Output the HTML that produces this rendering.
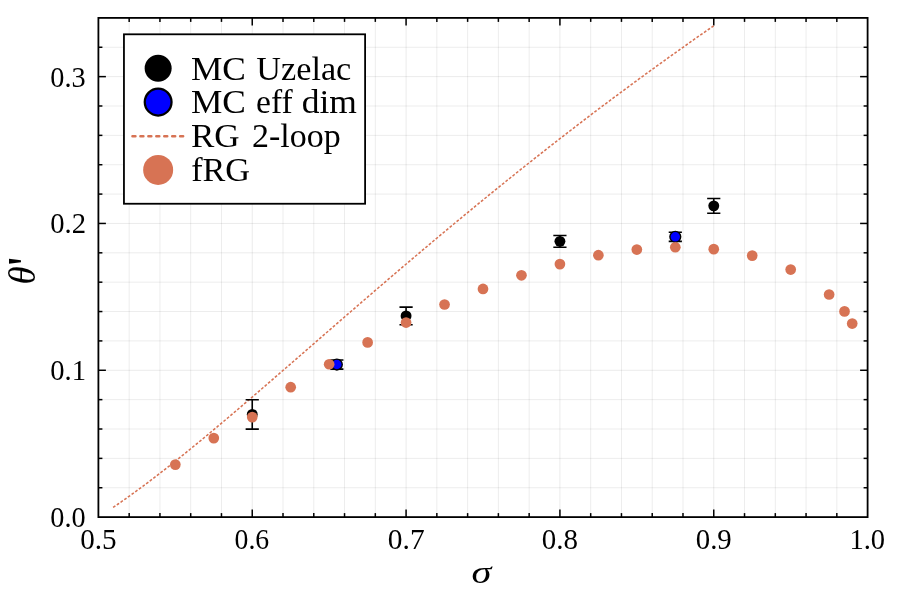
<!DOCTYPE html>
<html lang="en"><head><meta charset="utf-8"><title>theta prime vs sigma</title>
<style>html,body{margin:0;padding:0;background:#fff}svg{display:block}</style></head>
<body>
<svg width="897" height="598" viewBox="0 0 897 598">
<rect x="0" y="0" width="897" height="598" fill="#ffffff"/>
<g id="grid" fill="none" stroke="#000" stroke-width="0.8">
<line x1="129.17" y1="17.9" x2="129.17" y2="517.1" stroke-opacity="0.095"/>
<line x1="159.94" y1="17.9" x2="159.94" y2="517.1" stroke-opacity="0.095"/>
<line x1="190.70" y1="17.9" x2="190.70" y2="517.1" stroke-opacity="0.095"/>
<line x1="221.47" y1="17.9" x2="221.47" y2="517.1" stroke-opacity="0.095"/>
<line x1="252.24" y1="17.9" x2="252.24" y2="517.1" stroke-opacity="0.105"/>
<line x1="283.01" y1="17.9" x2="283.01" y2="517.1" stroke-opacity="0.095"/>
<line x1="313.78" y1="17.9" x2="313.78" y2="517.1" stroke-opacity="0.095"/>
<line x1="344.54" y1="17.9" x2="344.54" y2="517.1" stroke-opacity="0.095"/>
<line x1="375.31" y1="17.9" x2="375.31" y2="517.1" stroke-opacity="0.095"/>
<line x1="406.08" y1="17.9" x2="406.08" y2="517.1" stroke-opacity="0.105"/>
<line x1="436.85" y1="17.9" x2="436.85" y2="517.1" stroke-opacity="0.095"/>
<line x1="467.62" y1="17.9" x2="467.62" y2="517.1" stroke-opacity="0.095"/>
<line x1="498.38" y1="17.9" x2="498.38" y2="517.1" stroke-opacity="0.095"/>
<line x1="529.15" y1="17.9" x2="529.15" y2="517.1" stroke-opacity="0.095"/>
<line x1="559.92" y1="17.9" x2="559.92" y2="517.1" stroke-opacity="0.105"/>
<line x1="590.69" y1="17.9" x2="590.69" y2="517.1" stroke-opacity="0.095"/>
<line x1="621.46" y1="17.9" x2="621.46" y2="517.1" stroke-opacity="0.095"/>
<line x1="652.22" y1="17.9" x2="652.22" y2="517.1" stroke-opacity="0.095"/>
<line x1="682.99" y1="17.9" x2="682.99" y2="517.1" stroke-opacity="0.095"/>
<line x1="713.76" y1="17.9" x2="713.76" y2="517.1" stroke-opacity="0.105"/>
<line x1="744.53" y1="17.9" x2="744.53" y2="517.1" stroke-opacity="0.095"/>
<line x1="775.30" y1="17.9" x2="775.30" y2="517.1" stroke-opacity="0.095"/>
<line x1="806.06" y1="17.9" x2="806.06" y2="517.1" stroke-opacity="0.095"/>
<line x1="836.83" y1="17.9" x2="836.83" y2="517.1" stroke-opacity="0.095"/>
<line x1="98.4" y1="487.74" x2="867.6" y2="487.74" stroke-opacity="0.095"/>
<line x1="98.4" y1="458.37" x2="867.6" y2="458.37" stroke-opacity="0.095"/>
<line x1="98.4" y1="429.01" x2="867.6" y2="429.01" stroke-opacity="0.095"/>
<line x1="98.4" y1="399.64" x2="867.6" y2="399.64" stroke-opacity="0.095"/>
<line x1="98.4" y1="370.28" x2="867.6" y2="370.28" stroke-opacity="0.105"/>
<line x1="98.4" y1="340.91" x2="867.6" y2="340.91" stroke-opacity="0.095"/>
<line x1="98.4" y1="311.55" x2="867.6" y2="311.55" stroke-opacity="0.095"/>
<line x1="98.4" y1="282.18" x2="867.6" y2="282.18" stroke-opacity="0.095"/>
<line x1="98.4" y1="252.82" x2="867.6" y2="252.82" stroke-opacity="0.095"/>
<line x1="98.4" y1="223.45" x2="867.6" y2="223.45" stroke-opacity="0.105"/>
<line x1="98.4" y1="194.09" x2="867.6" y2="194.09" stroke-opacity="0.095"/>
<line x1="98.4" y1="164.72" x2="867.6" y2="164.72" stroke-opacity="0.095"/>
<line x1="98.4" y1="135.36" x2="867.6" y2="135.36" stroke-opacity="0.095"/>
<line x1="98.4" y1="105.99" x2="867.6" y2="105.99" stroke-opacity="0.095"/>
<line x1="98.4" y1="76.63" x2="867.6" y2="76.63" stroke-opacity="0.105"/>
<line x1="98.4" y1="47.26" x2="867.6" y2="47.26" stroke-opacity="0.095"/>
</g>
<g id="ticks" stroke="#000" stroke-width="1.5" fill="none">
<line x1="129.17" y1="517.1" x2="129.17" y2="513.1"/>
<line x1="129.17" y1="17.9" x2="129.17" y2="21.9"/>
<line x1="159.94" y1="517.1" x2="159.94" y2="513.1"/>
<line x1="159.94" y1="17.9" x2="159.94" y2="21.9"/>
<line x1="190.70" y1="517.1" x2="190.70" y2="513.1"/>
<line x1="190.70" y1="17.9" x2="190.70" y2="21.9"/>
<line x1="221.47" y1="517.1" x2="221.47" y2="513.1"/>
<line x1="221.47" y1="17.9" x2="221.47" y2="21.9"/>
<line x1="252.24" y1="517.1" x2="252.24" y2="509.6"/>
<line x1="252.24" y1="17.9" x2="252.24" y2="25.4"/>
<line x1="283.01" y1="517.1" x2="283.01" y2="513.1"/>
<line x1="283.01" y1="17.9" x2="283.01" y2="21.9"/>
<line x1="313.78" y1="517.1" x2="313.78" y2="513.1"/>
<line x1="313.78" y1="17.9" x2="313.78" y2="21.9"/>
<line x1="344.54" y1="517.1" x2="344.54" y2="513.1"/>
<line x1="344.54" y1="17.9" x2="344.54" y2="21.9"/>
<line x1="375.31" y1="517.1" x2="375.31" y2="513.1"/>
<line x1="375.31" y1="17.9" x2="375.31" y2="21.9"/>
<line x1="406.08" y1="517.1" x2="406.08" y2="509.6"/>
<line x1="406.08" y1="17.9" x2="406.08" y2="25.4"/>
<line x1="436.85" y1="517.1" x2="436.85" y2="513.1"/>
<line x1="436.85" y1="17.9" x2="436.85" y2="21.9"/>
<line x1="467.62" y1="517.1" x2="467.62" y2="513.1"/>
<line x1="467.62" y1="17.9" x2="467.62" y2="21.9"/>
<line x1="498.38" y1="517.1" x2="498.38" y2="513.1"/>
<line x1="498.38" y1="17.9" x2="498.38" y2="21.9"/>
<line x1="529.15" y1="517.1" x2="529.15" y2="513.1"/>
<line x1="529.15" y1="17.9" x2="529.15" y2="21.9"/>
<line x1="559.92" y1="517.1" x2="559.92" y2="509.6"/>
<line x1="559.92" y1="17.9" x2="559.92" y2="25.4"/>
<line x1="590.69" y1="517.1" x2="590.69" y2="513.1"/>
<line x1="590.69" y1="17.9" x2="590.69" y2="21.9"/>
<line x1="621.46" y1="517.1" x2="621.46" y2="513.1"/>
<line x1="621.46" y1="17.9" x2="621.46" y2="21.9"/>
<line x1="652.22" y1="517.1" x2="652.22" y2="513.1"/>
<line x1="652.22" y1="17.9" x2="652.22" y2="21.9"/>
<line x1="682.99" y1="517.1" x2="682.99" y2="513.1"/>
<line x1="682.99" y1="17.9" x2="682.99" y2="21.9"/>
<line x1="713.76" y1="517.1" x2="713.76" y2="509.6"/>
<line x1="713.76" y1="17.9" x2="713.76" y2="25.4"/>
<line x1="744.53" y1="517.1" x2="744.53" y2="513.1"/>
<line x1="744.53" y1="17.9" x2="744.53" y2="21.9"/>
<line x1="775.30" y1="517.1" x2="775.30" y2="513.1"/>
<line x1="775.30" y1="17.9" x2="775.30" y2="21.9"/>
<line x1="806.06" y1="517.1" x2="806.06" y2="513.1"/>
<line x1="806.06" y1="17.9" x2="806.06" y2="21.9"/>
<line x1="836.83" y1="517.1" x2="836.83" y2="513.1"/>
<line x1="836.83" y1="17.9" x2="836.83" y2="21.9"/>
<line x1="98.4" y1="487.74" x2="102.4" y2="487.74"/>
<line x1="867.6" y1="487.74" x2="863.6" y2="487.74"/>
<line x1="98.4" y1="458.37" x2="102.4" y2="458.37"/>
<line x1="867.6" y1="458.37" x2="863.6" y2="458.37"/>
<line x1="98.4" y1="429.01" x2="102.4" y2="429.01"/>
<line x1="867.6" y1="429.01" x2="863.6" y2="429.01"/>
<line x1="98.4" y1="399.64" x2="102.4" y2="399.64"/>
<line x1="867.6" y1="399.64" x2="863.6" y2="399.64"/>
<line x1="98.4" y1="370.28" x2="105.9" y2="370.28"/>
<line x1="867.6" y1="370.28" x2="860.1" y2="370.28"/>
<line x1="98.4" y1="340.91" x2="102.4" y2="340.91"/>
<line x1="867.6" y1="340.91" x2="863.6" y2="340.91"/>
<line x1="98.4" y1="311.55" x2="102.4" y2="311.55"/>
<line x1="867.6" y1="311.55" x2="863.6" y2="311.55"/>
<line x1="98.4" y1="282.18" x2="102.4" y2="282.18"/>
<line x1="867.6" y1="282.18" x2="863.6" y2="282.18"/>
<line x1="98.4" y1="252.82" x2="102.4" y2="252.82"/>
<line x1="867.6" y1="252.82" x2="863.6" y2="252.82"/>
<line x1="98.4" y1="223.45" x2="105.9" y2="223.45"/>
<line x1="867.6" y1="223.45" x2="860.1" y2="223.45"/>
<line x1="98.4" y1="194.09" x2="102.4" y2="194.09"/>
<line x1="867.6" y1="194.09" x2="863.6" y2="194.09"/>
<line x1="98.4" y1="164.72" x2="102.4" y2="164.72"/>
<line x1="867.6" y1="164.72" x2="863.6" y2="164.72"/>
<line x1="98.4" y1="135.36" x2="102.4" y2="135.36"/>
<line x1="867.6" y1="135.36" x2="863.6" y2="135.36"/>
<line x1="98.4" y1="105.99" x2="102.4" y2="105.99"/>
<line x1="867.6" y1="105.99" x2="863.6" y2="105.99"/>
<line x1="98.4" y1="76.63" x2="105.9" y2="76.63"/>
<line x1="867.6" y1="76.63" x2="860.1" y2="76.63"/>
<line x1="98.4" y1="47.26" x2="102.4" y2="47.26"/>
<line x1="867.6" y1="47.26" x2="863.6" y2="47.26"/>
</g>
<g id="rg2loop" stroke="#d77354" stroke-width="1.55" fill="none">
<path d="M113.10 507.43 L115.60 505.73 L118.11 504.01 L120.61 502.27 L123.11 500.52 L125.61 498.76 L128.12 496.98 L130.62 495.18 L133.12 493.38 L135.63 491.55 L138.13 489.72 L140.63 487.87 L143.13 486.01 L145.64 484.14 L148.14 482.26 L150.64 480.37 L153.15 478.46 L155.65 476.55 L158.15 474.62 L160.66 472.68 L163.16 470.74 L165.66 468.78 L168.16 466.82 L170.67 464.85 L173.17 462.86 L175.67 460.87 L178.18 458.87 L180.68 456.87 L183.18 454.85 L185.68 452.83 L188.19 450.80 L190.69 448.76 L193.19 446.72 L195.70 444.67 L198.20 442.61 L200.70 440.55 L203.20 438.48 L205.71 436.41 L208.21 434.33 L210.71 432.24 L213.22 430.15 L215.72 428.06 L218.22 425.96 L220.73 423.85 L223.23 421.75 L225.73 419.63 L228.23 417.52 L230.74 415.39 L233.24 413.27 L235.74 411.14 L238.25 409.01 L240.75 406.87 L243.25 404.73 L245.75 402.59 L248.26 400.45 L250.76 398.30 L253.26 396.15 L255.77 394.00 L258.27 391.85 L260.77 389.69 L263.27 387.53 L265.78 385.37 L268.28 383.21 L270.78 381.04 L273.29 378.88 L275.79 376.71 L278.29 374.54 L280.80 372.37 L283.30 370.20 L285.80 368.03 L288.30 365.86 L290.81 363.68 L293.31 361.51 L295.81 359.34 L298.32 357.16 L300.82 354.98 L303.32 352.81 L305.82 350.63 L308.33 348.46 L310.83 346.28 L313.33 344.10 L315.84 341.93 L318.34 339.75 L320.84 337.58 L323.34 335.40 L325.85 333.22 L328.35 331.05 L330.85 328.88 L333.36 326.70 L335.86 324.53 L338.36 322.36 L340.87 320.19 L343.37 318.02 L345.87 315.85 L348.37 313.68 L350.88 311.51 L353.38 309.35 L355.88 307.18 L358.39 305.02 L360.89 302.86 L363.39 300.70 L365.89 298.54 L368.40 296.38 L370.90 294.23 L373.40 292.07 L375.91 289.92 L378.41 287.77 L380.91 285.62 L383.41 283.48 L385.92 281.33 L388.42 279.19 L390.92 277.05 L393.43 274.91 L395.93 272.77 L398.43 270.63 L400.94 268.50 L403.44 266.37 L405.94 264.24 L408.44 262.12 L410.95 259.99 L413.45 257.87 L415.95 255.75 L418.46 253.63 L420.96 251.52 L423.46 249.41 L425.96 247.30 L428.47 245.19 L430.97 243.09 L433.47 240.98 L435.98 238.88 L438.48 236.79 L440.98 234.69 L443.48 232.60 L445.99 230.51 L448.49 228.43 L450.99 226.34 L453.50 224.26 L456.00 222.19 L458.50 220.11 L461.01 218.04 L463.51 215.97 L466.01 213.91 L468.51 211.84 L471.02 209.78 L473.52 207.73 L476.02 205.67 L478.53 203.62 L481.03 201.57 L483.53 199.53 L486.03 197.49 L488.54 195.45 L491.04 193.41 L493.54 191.38 L496.05 189.35 L498.55 187.32 L501.05 185.30 L503.55 183.28 L506.06 181.26 L508.56 179.25 L511.06 177.24 L513.57 175.23 L516.07 173.23 L518.57 171.23 L521.08 169.23 L523.58 167.24 L526.08 165.25 L528.58 163.26 L531.09 161.27 L533.59 159.29 L536.09 157.32 L538.60 155.34 L541.10 153.37 L543.60 151.41 L546.10 149.44 L548.61 147.48 L551.11 145.52 L553.61 143.57 L556.12 141.62 L558.62 139.67 L561.12 137.73 L563.62 135.79 L566.13 133.85 L568.63 131.92 L571.13 129.99 L573.64 128.06 L576.14 126.14 L578.64 124.22 L581.15 122.31 L583.65 120.39 L586.15 118.48 L588.65 116.58 L591.16 114.68 L593.66 112.78 L596.16 110.88 L598.67 108.99 L601.17 107.10 L603.67 105.22 L606.17 103.34 L608.68 101.46 L611.18 99.59 L613.68 97.72 L616.19 95.85 L618.69 93.99 L621.19 92.13 L623.69 90.27 L626.20 88.42 L628.70 86.57 L631.20 84.72 L633.71 82.88 L636.21 81.04 L638.71 79.21 L641.22 77.37 L643.72 75.55 L646.22 73.72 L648.72 71.90 L651.23 70.08 L653.73 68.27 L656.23 66.46 L658.74 64.65 L661.24 62.85 L663.74 61.05 L666.24 59.25 L668.75 57.46 L671.25 55.67 L673.75 53.88 L676.26 52.10 L678.76 50.32 L681.26 48.54 L683.76 46.77 L686.27 45.00 L688.77 43.24 L691.27 41.47 L693.78 39.72 L696.28 37.96 L698.78 36.21 L701.29 34.46 L703.79 32.72 L706.29 30.98 L708.79 29.24 L711.30 27.51 L713.80 25.78" stroke-dasharray="2.75 1.765"/>
</g>
<g id="mc-uzelac">
<path d="M252.24 429.15V399.79M245.64 399.79h13.2M245.64 429.15h13.2" stroke="#000" stroke-width="1.6" fill="none"/>
<path d="M406.08 324.76V307.14M399.48 307.14h13.2M399.48 324.76h13.2" stroke="#000" stroke-width="1.6" fill="none"/>
<path d="M559.92 247.24V235.49M553.32 235.49h13.2M553.32 247.24h13.2" stroke="#000" stroke-width="1.6" fill="none"/>
<path d="M713.76 213.18V198.49M707.16 198.49h13.2M707.16 213.18h13.2" stroke="#000" stroke-width="1.6" fill="none"/>
<circle cx="252.24" cy="414.47" r="5.45" fill="#000"/>
<circle cx="406.08" cy="315.95" r="5.45" fill="#000"/>
<circle cx="559.92" cy="241.37" r="5.45" fill="#000"/>
<circle cx="713.76" cy="205.83" r="5.45" fill="#000"/>
</g>
<g id="mc-effdim">
<path d="M336.85 369.10V360.00M330.25 360.00h13.2M330.25 369.10h13.2" stroke="#000" stroke-width="1.6" fill="none"/>
<path d="M675.30 241.37V232.26M668.70 232.26h13.2M668.70 241.37h13.2" stroke="#000" stroke-width="1.6" fill="none"/>
<circle cx="336.85" cy="364.55" r="5.4" fill="#0000ff" stroke="#000" stroke-width="1.4"/>
<circle cx="675.30" cy="236.81" r="5.4" fill="#0000ff" stroke="#000" stroke-width="1.4"/>
</g>
<g id="frg" fill="#d77354">
<circle cx="175.32" cy="464.60" r="5.35"/>
<circle cx="213.78" cy="438.11" r="5.35"/>
<circle cx="252.24" cy="417.11" r="5.35"/>
<circle cx="290.70" cy="387.16" r="5.35"/>
<circle cx="329.16" cy="364.26" r="5.35"/>
<circle cx="367.62" cy="342.38" r="5.35"/>
<circle cx="406.08" cy="322.56" r="5.35"/>
<circle cx="444.54" cy="304.50" r="5.35"/>
<circle cx="483.00" cy="288.94" r="5.35"/>
<circle cx="521.46" cy="275.28" r="5.35"/>
<circle cx="559.92" cy="264.12" r="5.35"/>
<circle cx="598.38" cy="255.17" r="5.35"/>
<circle cx="636.84" cy="249.59" r="5.35"/>
<circle cx="675.30" cy="247.24" r="5.35"/>
<circle cx="713.76" cy="249.15" r="5.35"/>
<circle cx="752.22" cy="255.61" r="5.35"/>
<circle cx="790.68" cy="269.56" r="5.35"/>
<circle cx="829.14" cy="294.52" r="5.35"/>
<circle cx="844.52" cy="311.40" r="5.35"/>
<circle cx="852.22" cy="323.59" r="5.35"/>
</g>
<rect x="98.4" y="17.9" width="769.20" height="499.20" fill="none" stroke="#000" stroke-width="1.8"/>
<g id="legend">
<rect x="123.95" y="34.3" width="241.15" height="169.45" fill="#fff" stroke="#000" stroke-width="1.8"/>
<circle cx="158.15" cy="68.2" r="13.5" fill="#000"/>
<circle cx="158.15" cy="102.1" r="13.4" fill="#0000ff" stroke="#000" stroke-width="2.25"/>
<path d="M132.5 136.2H184" stroke="#d77354" stroke-width="2.6" stroke-linecap="round" stroke-dasharray="2.9 5.05" fill="none"/>
<circle cx="158.15" cy="169.9" r="15" fill="#d77354"/>
<text y="79.50" font-family='"Liberation Serif", serif' font-size="34.3" fill="#000"><tspan x="190.93" textLength="54.92" lengthAdjust="spacingAndGlyphs">MC</tspan> <tspan x="256.34" textLength="94.94" lengthAdjust="spacingAndGlyphs">Uzelac</tspan></text>
<text y="113.40" font-family='"Liberation Serif", serif' font-size="34.3" fill="#000"><tspan x="190.93" textLength="54.92" lengthAdjust="spacingAndGlyphs">MC</tspan> <tspan x="256.06" textLength="36.66" lengthAdjust="spacingAndGlyphs">eff</tspan> <tspan x="301.71" textLength="55.24" lengthAdjust="spacingAndGlyphs">dim</tspan></text>
<text y="147.30" font-family='"Liberation Serif", serif' font-size="34.3" fill="#000"><tspan x="190.93" textLength="48.67" lengthAdjust="spacingAndGlyphs">RG</tspan> <tspan x="251.99" textLength="88.73" lengthAdjust="spacingAndGlyphs">2-loop</tspan></text>
<text y="181.10" font-family='"Liberation Serif", serif' font-size="34.3" fill="#000"><tspan x="191.16" textLength="58.94" lengthAdjust="spacingAndGlyphs">fRG</tspan></text>
</g>
<g id="xticks">
<text y="549.40" font-family='"Liberation Serif", serif' font-size="29.0" fill="#000"><tspan x="80.22" textLength="36.39" lengthAdjust="spacingAndGlyphs">0.5</tspan></text>
<text y="549.40" font-family='"Liberation Serif", serif' font-size="29.0" fill="#000"><tspan x="234.56" textLength="34.68" lengthAdjust="spacingAndGlyphs">0.6</tspan></text>
<text y="549.40" font-family='"Liberation Serif", serif' font-size="29.0" fill="#000"><tspan x="387.80" textLength="36.82" lengthAdjust="spacingAndGlyphs">0.7</tspan></text>
<text y="549.40" font-family='"Liberation Serif", serif' font-size="29.0" fill="#000"><tspan x="541.86" textLength="36.23" lengthAdjust="spacingAndGlyphs">0.8</tspan></text>
<text y="549.40" font-family='"Liberation Serif", serif' font-size="29.0" fill="#000"><tspan x="695.75" textLength="35.99" lengthAdjust="spacingAndGlyphs">0.9</tspan></text>
<text y="549.40" font-family='"Liberation Serif", serif' font-size="29.0" fill="#000"><tspan x="849.38" textLength="35.70" lengthAdjust="spacingAndGlyphs">1.0</tspan></text>
</g>
<g id="yticks">
<text y="527.10" font-family='"Liberation Serif", serif' font-size="29.0" fill="#000"><tspan x="50.30" textLength="35.28" lengthAdjust="spacingAndGlyphs">0.0</tspan></text>
<text y="380.28" font-family='"Liberation Serif", serif' font-size="29.0" fill="#000"><tspan x="50.30" textLength="35.71" lengthAdjust="spacingAndGlyphs">0.1</tspan></text>
<text y="233.45" font-family='"Liberation Serif", serif' font-size="29.0" fill="#000"><tspan x="50.30" textLength="35.75" lengthAdjust="spacingAndGlyphs">0.2</tspan></text>
<text y="86.63" font-family='"Liberation Serif", serif' font-size="29.0" fill="#000"><tspan x="50.30" textLength="35.33" lengthAdjust="spacingAndGlyphs">0.3</tspan></text>
</g>
<text transform="translate(481.5 582.9) scale(1.09 0.83)" font-family='"Liberation Serif", serif' font-size="37" font-style="italic" text-anchor="middle" fill="#000">σ</text>
<text transform="translate(34.6 275.3) rotate(-90)" font-family='"Liberation Serif", serif' font-size="37" font-style="italic" text-anchor="middle" fill="#000">θ</text>
<text transform="translate(42.2 265.8) rotate(-90)" font-family='"Liberation Serif", serif' font-size="50" text-anchor="start" fill="#000">'</text>
</svg>
</body></html>
